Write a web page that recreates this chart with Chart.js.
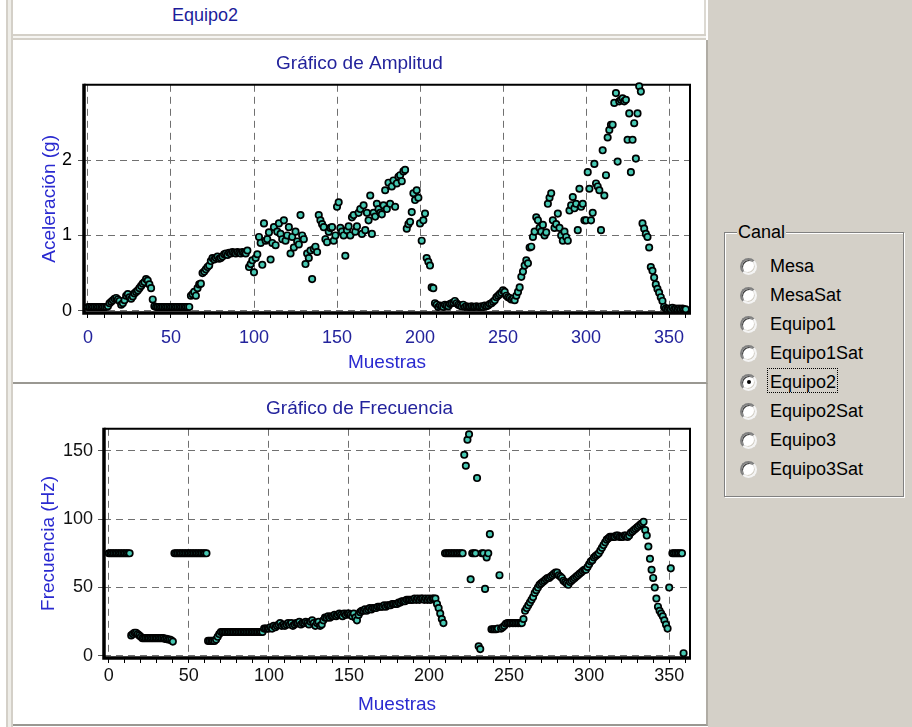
<!DOCTYPE html>
<html>
<head>
<meta charset="utf-8">
<script src="https://cdn.jsdelivr.net/npm/chart.js@4.4.1/dist/chart.umd.min.js"></script>
<style>
  html, body { margin: 0; padding: 0; }
  body {
    width: 912px; height: 727px; position: relative; overflow: hidden;
    background: #fff; font-family: 'Liberation Sans', Arial, sans-serif;
  }
  .strip { position: absolute; left: 6px; top: 0; width: 7px; height: 727px; box-sizing: border-box;
    background: #eeede8; border-left: 2px solid #d4d0c8; border-right: 2px solid #d4d0c8; }
  .header { position: absolute; left: 105px; top: 4px; width: 200px; text-align: center;
    font-size: 18px; line-height: 22px; color: #1c1c9a; }
  .hsep { position: absolute; left: 13px; top: 34px; width: 693px; height: 6px; box-sizing: border-box;
    background: #f6f5f2; border-top: 2px solid #d4d0c8; border-bottom: 2px solid #d4d0c8; }
  .hedge { position: absolute; left: 704px; top: 0; width: 2px; height: 36px; background: #dcd9d2; }
  .panel { position: absolute; left: 13px; width: 693px; background: #fff;
    border-right: 2px solid #b0aca4; border-bottom: 2px solid #9a9892; }
  .right { position: absolute; left: 708px; top: 0; width: 204px; height: 727px; background: #d4d0c8; }
  canvas { position: absolute; left: 0; top: 0; }
  .group { position: absolute; left: 724px; top: 232px; width: 178px; height: 263px;
    border: 1px solid #808080; box-shadow: 1px 1px 0 #fff, inset 1px 1px 0 #fff; }
  .cap { position: absolute; left: 737px; top: 222px; background: #d4d0c8; padding: 0 1px;
    font-size: 18px; line-height: 20px; color: #000; }
  .rb { position: absolute; left: 740px; width: 17px; height: 17px; box-sizing: border-box; border-radius: 50%;
    background: #fff; border: 2px solid; border-color: #808080 #f4f4f4 #f4f4f4 #808080;
    box-shadow: inset 1px 1px 0 #404040, inset -1px -1px 0 #d4d0c8; }
  .rb.on::after { content: ''; position: absolute; left: 4.5px; top: 4.5px; width: 4px; height: 4px;
    border-radius: 50%; background: #000; }
  .rl { position: absolute; left: 770px; font-size: 18px; line-height: 20px; color: #000; }
  .focus { position: absolute; left: 767px; top: 368px; width: 71px; height: 25px; box-sizing: border-box;
    border: 1px dotted #000; }
</style>
</head>
<body>
<div class="strip"></div>
<div class="header">Equipo2</div>
<div class="hedge"></div>
<div class="hsep"></div>
<div class="panel" style="top:40px;height:342px;"><canvas id="ampChart" width="693" height="342"></canvas></div>
<div class="panel" style="top:384px;height:340px;"><canvas id="freqChart" width="693" height="340"></canvas></div>
<div class="right"></div>
<div class="group"></div>
<div class="cap">Canal</div>
<div id="radios"></div>
<div class="focus"></div>

<script>
// Channel list of the radio group
const channels = ['Mesa', 'MesaSat', 'Equipo1', 'Equipo1Sat', 'Equipo2', 'Equipo2Sat', 'Equipo3', 'Equipo3Sat'];
const selectedChannel = 'Equipo2';

// Sample numbers start at 0, one value per sample
const firstSample = 0;

// Amplitude (g), samples 0..360
const ampValues = [
  0.05,0.05,0.05,0.05,0.05,0.05,0.05,0.05,0.05,0.05,
  0.05,0.05,0.06,0.10,0.12,0.14,0.16,0.17,0.15,0.13,
  0.08,0.10,0.14,0.20,0.22,0.18,0.16,0.19,0.23,0.25,
  0.27,0.30,0.33,0.36,0.38,0.42,0.40,0.35,0.30,0.15,
  0.06,0.05,0.05,0.05,0.05,0.05,0.05,0.05,0.05,0.05,
  0.05,0.05,0.05,0.05,0.05,0.05,0.05,0.05,0.05,0.05,
  0.05,0.05,0.20,0.22,0.25,0.20,0.30,0.35,0.36,0.50,
  0.52,0.55,0.58,0.60,0.66,0.70,0.68,0.70,0.72,0.69,
  0.70,0.72,0.75,0.76,0.74,0.77,0.76,0.78,0.77,0.76,
  0.78,0.77,0.76,0.78,0.77,0.76,0.80,0.58,0.62,0.67,
  0.51,0.70,0.75,0.98,0.90,0.61,1.16,0.93,0.95,1.04,
  0.68,0.90,1.11,0.87,1.05,1.16,1.02,0.95,1.20,0.93,
  1.00,1.11,0.76,0.98,0.84,1.05,0.92,0.88,1.27,1.00,
  0.95,0.62,0.76,0.70,0.80,0.42,0.82,0.85,0.78,1.27,
  1.20,1.15,1.11,0.95,0.91,1.05,1.10,1.11,0.93,1.00,
  1.38,1.44,1.10,1.05,1.00,0.73,1.07,1.12,1.00,1.24,
  1.27,1.05,1.12,1.30,1.35,1.02,1.40,1.07,1.30,1.20,
  1.53,1.02,1.30,1.25,1.42,1.35,1.30,1.28,1.40,1.60,
  1.35,1.70,1.42,1.65,1.73,1.38,1.69,1.78,1.80,1.72,
  1.85,1.87,1.09,1.15,1.18,1.31,1.56,1.47,1.60,1.50,
  1.16,0.93,1.20,1.29,0.70,0.65,0.60,0.31,0.30,0.10,
  0.08,0.05,0.07,0.06,0.05,0.08,0.07,0.06,0.09,0.10,
  0.11,0.13,0.10,0.08,0.07,0.06,0.08,0.05,0.06,0.05,
  0.05,0.06,0.05,0.05,0.06,0.05,0.05,0.06,0.05,0.07,
  0.06,0.07,0.09,0.10,0.12,0.14,0.18,0.20,0.22,0.24,
  0.27,0.25,0.20,0.18,0.17,0.15,0.16,0.14,0.20,0.25,
  0.31,0.45,0.52,0.60,0.67,0.63,0.84,0.85,0.98,1.05,
  1.24,1.20,1.10,1.05,1.14,1.00,1.04,1.42,1.50,1.56,
  1.20,1.10,1.15,1.29,1.10,1.00,0.93,1.05,0.98,0.93,
  1.33,1.40,1.51,1.36,1.42,1.07,1.62,1.38,1.42,1.20,
  1.20,1.84,1.62,1.20,1.30,1.95,1.69,1.65,1.60,1.07,
  2.13,1.53,1.80,2.30,2.40,2.47,2.47,2.76,2.89,1.98,
  2.78,2.80,2.82,2.78,2.80,2.27,2.62,1.84,2.27,2.49,
  2.02,2.62,2.98,2.91,1.16,1.09,1.02,0.98,0.84,0.58,
  0.53,0.44,0.35,0.29,0.24,0.18,0.13,0.05,0.03,0.02,
  0.03,0.02,0.04,0.02,0.03,0.02,0.03,0.02,0.03,0.02,
  0.02
];

// Frequency (Hz), samples 0..359
const freqValues = [
  75,75,75,75,75,75,75,75,75,75,
  75,75,75,75,15,16,17,17,16,15,
  14,13,13,13,13,13,13,13,13,13,
  13,13,13,13,13,12.5,12.5,12,12,11.5,
  10.5,75,75,75,75,75,75,75,75,75,
  75,75,75,75,75,75,75,75,75,75,
  75,75,11,11,11,11,11,12,14,16,
  17.5,17.5,17.5,17.5,17.5,17.5,17.5,17.5,17.5,17.5,
  17.5,17.5,17.5,17.5,17.5,17.5,17.5,17.5,17.5,17.5,
  17.5,17.5,17.5,17.5,17.5,17.5,17.5,20,20,20,
  20,21,20,22,21,22,23,24,22,23,
  22,23,24,23,24,22,23,24,24,25,
  23,24,24,25,24,23,25,26,24,22,
  24,25,22,23,26,28,28,29,28,29,
  29,30,29,30,31,30,29,31,30,31,
  31,30,29,31,28,26,30,32,33,33,
  34,33,34,35,34,35,35,35,36,36,
  36,36,37,36,37,37,37,38,38,38,
  38,39,39,40,40,40,41,41,41,41,
  41,42,41,42,41,42,42,41,42,41,
  42,41,42,42,42,38,35,31,27,24,
  75,75,75,75,75,75,75,75,75,75,
  75,75,147,139,158,162,56,75,75,75,
  130,7,5,75,75,49,72,75,89,19.5,
  19.5,19.5,19.5,20,59,20,21,22,23.5,24,
  24,24,24,24,24,24,24,24,24,27,
  33,35,37,39,41,43,46,48,50,52,
  53,54,55,56,57,57,58,59,60,61,
  61,59,58,57,55,54,53,52,54,55,
  56,57,58,59,60,61,62,63,63,65,
  67,69,70,72,73,74,75,77,79,81,
  83,85,86,87,87,87,87,88,88,87,
  87,87,88,88,87,88,90,91,92,93,
  94,95,96,97,98,92,88,80,71,63,
  57,50,42,36,33,31,29,26,23,20,
  50,64,75,75,75,75,75,75,75,2
];

// Radio group
const radioBox = document.getElementById('radios');
channels.forEach((name, i) => {
  const cy = 266 + i * 29.0;
  const rb = document.createElement('div');
  rb.className = 'rb' + (name === selectedChannel ? ' on' : '');
  rb.style.top = (cy - 8.5) + 'px';
  const rl = document.createElement('div');
  rl.className = 'rl';
  rl.style.top = (cy - 10) + 'px';
  rl.textContent = name;
  radioBox.appendChild(rb);
  radioBox.appendChild(rl);
});

Chart.defaults.font.family = "'Liberation Sans', Arial, sans-serif";
Chart.defaults.animation = false;

// plot frame: heavy left/bottom axes, thinner top/right edges
const framePlugin = {
  id: 'frame',
  beforeDatasetsDraw(chart) {
    const {ctx, chartArea: a} = chart;
    ctx.save();
    ctx.strokeStyle = '#000';
    ctx.lineWidth = 2;
    ctx.beginPath();
    ctx.moveTo(a.left, a.top);
    ctx.lineTo(a.right, a.top);
    ctx.lineTo(a.right, a.bottom);
    ctx.stroke();
    ctx.lineWidth = 3.5;
    ctx.beginPath();
    ctx.moveTo(a.left, a.top - 1);
    ctx.lineTo(a.left, a.bottom);
    ctx.lineTo(a.right + 1, a.bottom);
    ctx.stroke();
    ctx.restore();
  }
};

const isMult = (v, m) => Math.abs(v / m - Math.round(v / m)) < 1e-6;

function toPoints(values) {
  return values.map((v, i) => ({x: firstSample + i, y: v}));
}

function dataset(values) {
  return {
    data: toPoints(values),
    pointRadius: 3.2,
    pointBorderWidth: 1.7,
    pointBackgroundColor: '#46c8b2',
    pointBorderColor: '#000',
    showLine: false,
    clip: false
  };
}

const gridDash = [7, 5];

// empty right-hand axis that keeps a margin right of the plot
const rightMargin = {
  position: 'right', display: true,
  ticks: { display: false },
  grid: { display: false, drawTicks: false },
  border: { display: false },
  afterFit: s => { s.width = 16; }
};

// Amplitude chart
new Chart(document.getElementById('ampChart'), {
  type: 'scatter',
  data: { datasets: [dataset(ampValues)] },
  options: {
    responsive: false,
    plugins: {
      legend: { display: false },
      tooltip: { enabled: false },
      title: {
        display: true,
        text: 'Gráfico de Amplitud',
        color: '#23239c',
        font: { size: 19, weight: 'normal' },
        padding: { top: 12, bottom: 10 }
      }
    },
    scales: {
      x: {
        min: -2.4, max: 362.6,
        afterFit: s => { s.height = 69; },
        ticks: {
          stepSize: 10, includeBounds: false, autoSkip: false, maxRotation: 0,
          color: '#23239c', font: { size: 18 }, padding: 9,
          callback: v => isMult(v, 50) ? String(v) : ''
        },
        grid: {
          color: c => isMult(c.tick.value, 50) ? '#707070' : 'transparent',
          tickColor: '#000', tickLength: 5
        },
        border: { display: false, dash: gridDash },
        title: {
          display: true, text: 'Muestras', color: '#2a2ad0',
          font: { size: 19 }, padding: { top: 0, bottom: 8 }
        }
      },
      y: {
        min: -0.03, max: 3.0,
        afterFit: s => { s.width = 71; },
        ticks: {
          stepSize: 1, includeBounds: false, color: '#000', font: { size: 18 }, padding: 6,
          callback: v => (isMult(v, 1) && v <= 2) ? String(v) : ''
        },
        grid: {
          color: c => (isMult(c.tick.value, 1) && c.tick.value <= 2) ? '#707070' : 'transparent',
          tickColor: c => (c.tick && c.tick.value <= 2) ? '#555' : 'transparent',
          tickLength: 6
        },
        border: { display: false, dash: gridDash },
        title: {
          display: true, text: 'Aceleración (g)', color: '#2a2ad0',
          font: { size: 19 }, padding: { top: 25, bottom: 0 }
        }
      },
      yr: rightMargin
    }
  },
  plugins: [framePlugin]
});

// Frequency chart
new Chart(document.getElementById('freqChart'), {
  type: 'scatter',
  data: { datasets: [dataset(freqValues)] },
  options: {
    responsive: false,
    plugins: {
      legend: { display: false },
      tooltip: { enabled: false },
      title: {
        display: true,
        text: 'Gráfico de Frecuencia',
        color: '#23239c',
        font: { size: 19, weight: 'normal' },
        padding: { top: 13, bottom: 9 }
      }
    },
    scales: {
      x: {
        min: -3, max: 363,
        afterFit: s => { s.height = 66; },
        ticks: {
          stepSize: 10, includeBounds: false, autoSkip: false, maxRotation: 0,
          color: '#111', font: { size: 18 }, padding: 2,
          callback: v => isMult(v, 50) ? String(v) : ''
        },
        grid: {
          color: c => isMult(c.tick.value, 50) ? '#707070' : 'transparent',
          tickColor: '#000', tickLength: 5
        },
        border: { display: false, dash: gridDash },
        title: {
          display: true, text: 'Muestras', color: '#2a2ad0',
          font: { size: 19 }, padding: { top: 0, bottom: 8 }
        }
      },
      y: {
        min: -1.5, max: 166,
        afterFit: s => { s.width = 91; },
        ticks: {
          stepSize: 50, includeBounds: false, color: '#111', font: { size: 18 }, padding: 5,
          callback: v => String(v)
        },
        grid: { color: '#707070', tickColor: '#555', tickLength: 6 },
        border: { display: false, dash: gridDash },
        title: {
          display: true, text: 'Frecuencia (Hz)', color: '#2a2ad0',
          font: { size: 19 }, padding: { top: 24, bottom: 0 }
        }
      },
      yr: rightMargin
    }
  },
  plugins: [framePlugin]
});
</script>
</body>
</html>
